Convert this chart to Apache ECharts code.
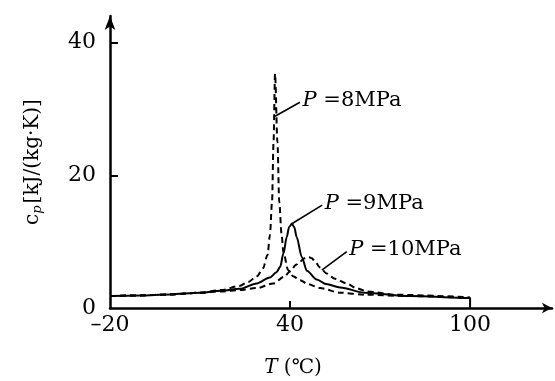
<!DOCTYPE html>
<html>
<head>
<meta charset="utf-8">
<script src="https://cdn.jsdelivr.net/npm/echarts@6/dist/echarts.min.js"></script>
<style>
  html, body { margin: 0; padding: 0; background: #fff; }
  #chart { width: 555px; height: 381px; }
</style>
</head>
<body>
<div id="chart"></div>
<script>
// 温度 T (℃) 与比热 cp (kJ/(kg·K))
const t8 = [-20, -10, 0, 10, 17, 23, 26, 29, 31, 32.5, 33.3, 34, 34.5, 35, 35.8, 36.4, 37.2, 37.8, 39.4, 41, 43.3, 46, 50, 56.7, 65, 80, 100]
const cp8 = [1.8, 1.9, 2.05, 2.3, 2.7, 3.3, 3.9, 4.8, 6.0, 8.0, 11, 16, 25, 35.3, 25, 16, 11, 8.3, 5.7, 4.8, 4.2, 3.6, 3.0, 2.3, 2.0, 1.8, 1.5]

const t9 = [-20, -10, 0, 10, 17, 23.3, 28.9, 33.3, 35.5, 36.7, 37.8, 38.9, 39.7, 40.6, 41.4, 42.2, 43.9, 45.6, 48.9, 52, 56.7, 65, 80, 100, 100]
const cp9 = [1.8, 1.9, 2.05, 2.3, 2.6, 2.9, 3.7, 4.6, 5.4, 6.2, 8.2, 10.7, 12.2, 12.7, 12.2, 10.7, 7.7, 5.6, 4.3, 3.6, 3.1, 2.3, 1.8, 1.5, 0]

const t10 = [-20, -10, 0, 10, 17, 23.3, 28.9, 34.4, 38, 40, 42, 43.3, 44.8, 46.1, 47.3, 48.3, 50, 52.2, 55, 58.9, 62, 65.6, 75, 100]
const cp10 = [1.8, 1.9, 2.05, 2.3, 2.5, 2.7, 3.0, 3.7, 4.7, 5.5, 6.5, 7.0, 7.5, 7.7, 7.5, 7.0, 6.1, 5.2, 4.4, 3.7, 3.0, 2.5, 2.0, 1.6]

// 标注引线 [起点, 终点]，数据坐标
const lead8 = [[35, 28.9], [43.3, 31.0]]
const lead9 = [[40.6, 12.7], [50.7, 15.5]]
const lead10 = [[50.6, 5.7], [58.9, 8.5]]

const xLabels = [-20, 40, 100]
const yLabels = [0, 20, 40]

const FONT = 'DejaVu Serif'
const pair = (xs, ys) => xs.map((x, i) => [x, ys[i]])

// 引线 + 文字标注
const leader = (pts, text) => ({
    silent: true,
    animation: false,
    symbol: ['none', 'none'],
    lineStyle: { color: '#000', width: 1.6, type: 'solid' },
    label: {
        show: true,
        position: 'end',
        distance: 3,
        color: '#000',
        formatter: '{i|P} =' + text,
        fontFamily: FONT,
        fontSize: 21,
        rich: {
            i: { fontFamily: FONT, fontSize: 21, fontStyle: 'italic', color: '#000' }
        }
    },
    data: [[{ coord: pts[0] }, { coord: pts[1] }]]
})

const chart = echarts.init(document.getElementById('chart'))

chart.setOption({
    animation: false,
    grid: { left: 110, right: 3, top: 16, bottom: 73, outerBoundsMode: 'none', containLabel: false },
    xAxis: {
        type: 'value',
        min: -20,
        max: 127.3,
        name: '{i|T} (℃)',
        nameLocation: 'middle',
        nameGap: 50,
        nameTextStyle: {
            fontFamily: FONT,
            fontSize: 20,
            color: '#000',
            padding: [0, 76, 0, 0],
            rich: { i: { fontFamily: FONT, fontSize: 20, fontStyle: 'italic', color: '#000' } }
        },
        axisLine: {
            lineStyle: { color: '#000', width: 2.5 },
            symbol: ['none', 'arrow'],
            symbolSize: [8, 10]
        },
        axisTick: { inside: true, length: 7, lineStyle: { color: '#000', width: 2 }, customValues: [40] },
        axisLabel: {
            customValues: xLabels,
            color: '#000',
            fontFamily: FONT,
            fontSize: 22,
            margin: 6,
            formatter: v => (v < 0 ? '–' + Math.abs(v) : String(v))
        },
        splitLine: { show: false }
    },
    yAxis: {
        type: 'value',
        min: 0,
        max: 44,
        name: '{c|c}{s|p}{t|[kJ/(kg·K)]}',
        nameLocation: 'middle',
        nameGap: 66,
        nameTextStyle: {
            color: '#000',
            rich: {
                c: { fontFamily: FONT, fontSize: 20, color: '#000' },
                s: { fontFamily: FONT, fontSize: 13, fontStyle: 'italic', color: '#000', padding: [10, 2, 0, 0] },
                t: { fontFamily: FONT, fontSize: 20, color: '#000' }
            }
        },
        axisLine: {
            onZero: false,
            lineStyle: { color: '#000', width: 2.5 },
            symbol: ['none', 'arrow'],
            symbolSize: [8, 14]
        },
        axisTick: { inside: true, length: 8, lineStyle: { color: '#000', width: 2 }, customValues: [20, 40] },
        axisLabel: {
            customValues: yLabels,
            color: '#000',
            fontFamily: FONT,
            fontSize: 22,
            margin: 14
        },
        splitLine: { show: false }
    },
    series: [
        {
            name: 'P=8MPa',
            type: 'line',
            data: pair(t8, cp8),
            showSymbol: false,
            smooth: 0.3,
            smoothMonotone: 'x',
            lineStyle: { color: '#000', width: 2, type: [6, 4] },
            markLine: leader(lead8, '8MPa')
        },
        {
            name: 'P=9MPa',
            type: 'line',
            data: pair(t9, cp9),
            showSymbol: false,
            smooth: 0.3,
            smoothMonotone: 'x',
            lineStyle: { color: '#000', width: 2 },
            markLine: leader(lead9, '9MPa')
        },
        {
            name: 'P=10MPa',
            type: 'line',
            data: pair(t10, cp10),
            showSymbol: false,
            smooth: 0.3,
            smoothMonotone: 'x',
            lineStyle: { color: '#000', width: 2, type: [6, 4] },
            markLine: leader(lead10, '10MPa')
        }
    ]
})
</script>
</body>
</html>
